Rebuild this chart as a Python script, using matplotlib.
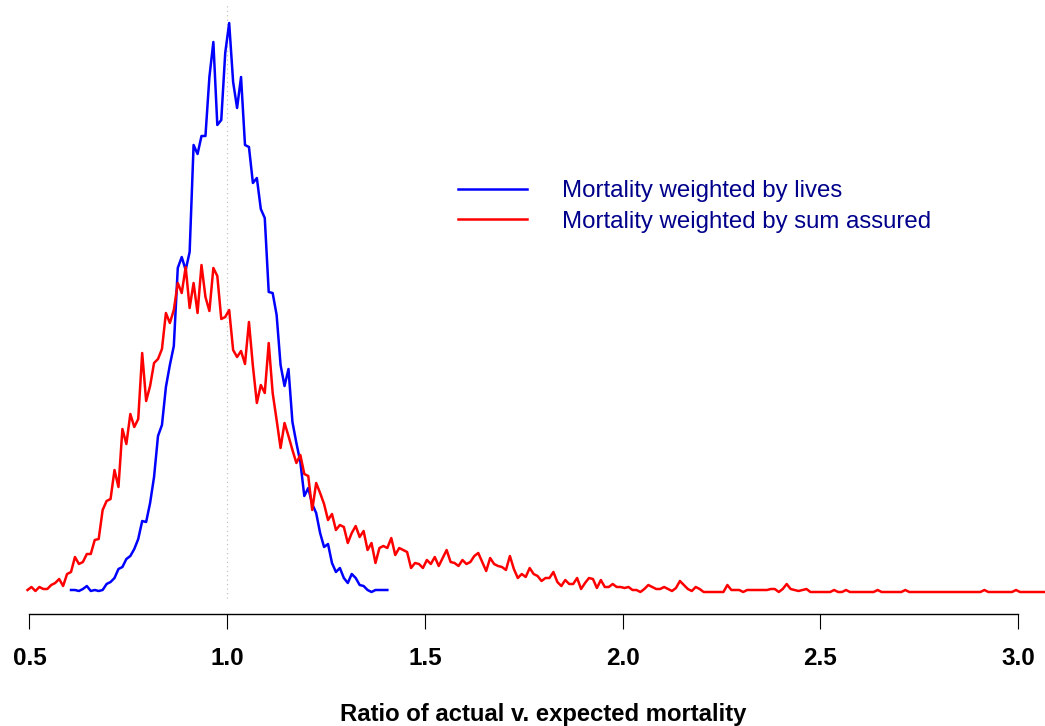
import numpy as np
import matplotlib
matplotlib.use('Agg')
import matplotlib.pyplot as plt

# relative frequency per 0.01 bin of the A/E ratio
bin_width = 0.01
lives_start = 0.605
sa_start = 0.495

lives = [2, 2, 1, 3, 6, 1, 2, 1, 2, 8,
         10, 14, 23, 25, 33, 36, 43, 53, 71, 70,
         89, 115, 156, 167, 205, 227, 246, 324, 335, 322,
         340, 447, 438, 456, 456, 515, 550, 467, 472, 539,
         569, 510, 484, 515, 447, 445, 409, 414, 383, 374,
         300, 299, 277, 227, 206, 223, 170, 149, 130, 96,
         104, 88, 79, 59, 45, 48, 29, 20, 24, 14,
         9, 18, 14, 7, 6, 2, 0, 2, 2, 2,
         2]

sum_assured = [2, 5, 1, 5, 3, 3, 7, 9, 13, 6,
               18, 20, 35, 28, 30, 38, 38, 52, 53, 82,
               91, 93, 122, 105, 163, 148, 178, 165, 173, 239,
               191, 206, 229, 233, 243, 279, 269, 282, 309, 299,
               325, 284, 309, 279, 327, 295, 281, 324, 316, 273,
               275, 282, 242, 235, 241, 228, 270, 226, 189, 207,
               199, 249, 199, 172, 144, 169, 156, 142, 129, 137,
               118, 116, 82, 109, 99, 88, 72, 78, 62, 67,
               65, 49, 59, 66, 55, 61, 42, 49, 29, 44,
               46, 44, 54, 37, 44, 42, 40, 24, 29, 28,
               24, 32, 28, 35, 26, 34, 42, 30, 29, 26,
               32, 28, 30, 36, 39, 30, 21, 34, 28, 26,
               25, 22, 36, 23, 14, 18, 15, 24, 18, 16,
               11, 14, 14, 20, 10, 6, 12, 8, 8, 14,
               3, 9, 14, 13, 4, 12, 5, 5, 8, 5,
               5, 4, 5, 2, 2, 0, 3, 7, 5, 3,
               3, 5, 3, 1, 4, 11, 7, 3, 1, 5,
               3, 0, 0, 0, 0, 0, 0, 7, 2, 2,
               2, 0, 2, 2, 2, 2, 2, 2, 3, 3,
               0, 3, 8, 3, 2, 1, 2, 3, 0, 0,
               0, 0, 0, 0, 2, 0, 0, 2, 0, 0,
               0, 0, 0, 0, 0, 2, 0, 0, 0, 0,
               0, 0, 2, 0, 0, 0, 0, 0, 0, 0,
               0, 0, 0, 0, 0, 0, 0, 0, 0, 0,
               0, 0, 2, 0, 0, 0, 0, 0, 0, 0,
               2, 0, 0, 0, 0, 0, 0, 0, 0, 0]

xticks = [0.5, 1.0, 1.5, 2.0, 2.5, 3.0]
xticklabels = ['0.5', '1.0', '1.5', '2.0', '2.5', '3.0']
labels = ['Mortality weighted by lives', 'Mortality weighted by sum assured']

x_lives = lives_start + bin_width * np.arange(len(lives))
x_sa = sa_start + bin_width * np.arange(len(sum_assured))

plt.rcParams['font.family'] = ['Liberation Sans', 'DejaVu Sans']

fig = plt.figure(figsize=(10.45, 7.26), dpi=100)
ax = fig.add_axes([0, 112 / 726, 1, 614 / 726])

ax.vlines(1.0, -6, 587, colors='#BBBBBB', linestyles=(0, (1, 3)), linewidth=0.8)
ax.plot(x_lives, lives, color='#0000FF', lw=1.8, label=labels[0])
ax.plot(x_sa, sum_assured, color='#FF0000', lw=1.8, label=labels[1])

ax.set_xlim(0.4254, 3.0683)
ax.set_ylim(-22, 592)
ax.set_yticks([])
for s in ['left', 'right', 'top']:
    ax.spines[s].set_visible(False)
ax.spines['bottom'].set_bounds(0.5, 3.0)
ax.spines['bottom'].set_linewidth(1)
ax.set_xticks(xticks)
ax.set_xticklabels(xticklabels, fontsize=17.5, fontweight='bold')
ax.tick_params(axis='x', length=10.8, width=0.8, pad=12.7)

fig.text(543 / 1045, 1 - 720.7 / 726, 'Ratio of actual v. expected mortality',
         ha='center', va='baseline', fontsize=17.2, fontweight='bold')

leg = ax.legend(loc='upper left', bbox_to_anchor=(458 / 1045, 1 - 180.4 / 726),
                bbox_transform=fig.transFigure, frameon=False, fontsize=17.3,
                handlelength=2.875, handletextpad=1.45, labelspacing=0.34,
                borderpad=0, borderaxespad=0, labelcolor='#00008B')

fig.savefig('out.png', dpi=100)
